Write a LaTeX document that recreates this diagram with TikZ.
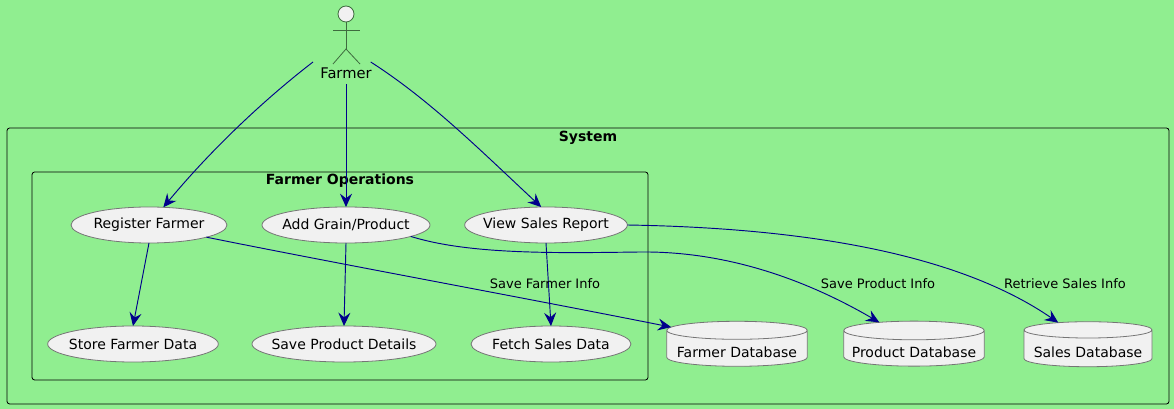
\documentclass[tikz,border=0pt]{standalone}
\usepackage{fontspec}
\setmainfont{DejaVu Sans}
\usetikzlibrary{arrows.meta,shapes.geometric}
\definecolor{pagegreen}{HTML}{90EE90}
\definecolor{shapefill}{HTML}{F1F1F1}
\definecolor{shapeline}{HTML}{757575}
\definecolor{flowblue}{HTML}{00008B}
\definecolor{actorline}{HTML}{3E6B3E}
\newcommand{\dbtext}[1]{\raisebox{-7pt}[0pt][0pt]{#1}}
\begin{document}
\begin{tikzpicture}[x=0.75pt,y=-0.75pt,inner sep=0pt,outer sep=0pt,line width=0.6pt,font=\fontsize{10.5pt}{12pt}\selectfont,
usecase/.style={draw=shapeline,fill=shapefill,ellipse,inner xsep=-14pt,minimum height=27pt},
dbase/.style={draw=shapeline,fill=shapefill,cylinder,shape border rotate=90,aspect=0.15,minimum height=33.75pt},
frame/.style={draw=black,rounded corners=2pt},
flow/.style={draw=flowblue,line width=0.7pt,-{Stealth[length=10pt,width=9pt,inset=3.5pt]}},
edgetext/.style={font=\fontsize{9.75pt}{12pt}\selectfont},
actorpart/.style={draw=actorline}]
\useasboundingbox[fill=pagegreen] (0,0) rectangle (1174,409);
% boxes
\draw[frame] (7,128) rectangle (1169,404);
\draw[frame] (32,172) rectangle (648,380);
\draw (588,138) node[font=\fontsize{10.5pt}{12pt}\selectfont\bfseries] (system) {System};
\draw (340,181) node[font=\fontsize{10.5pt}{12pt}\selectfont\bfseries] (operations) {Farmer Operations};
% actor
\draw (346,14) node[draw=actorline,fill=shapefill,circle,minimum size=12pt] (head) {};
\draw (346,73) node[minimum width=49.5pt,minimum height=16.5pt,font=\fontsize{11pt}{12pt}\selectfont] (farmer) {Farmer};
\draw[actorpart] (head.south) -- (346,49) coordinate (hip);
\draw[actorpart] (333,30) -- (360,30);
\draw[actorpart] (333,64) -- (hip) -- (360,64);
% use cases
\draw (149,225) node[usecase,minimum width=117pt] (register) {Register Farmer};
\draw (346,225) node[usecase,minimum width=126pt] (addgrain) {Add Grain/Product};
\draw (546,225) node[usecase,minimum width=122pt] (viewsales) {View Sales Report};
\draw (133,344) node[usecase,minimum width=128pt] (store) {Store Farmer Data};
\draw (344,344) node[usecase,minimum width=138pt] (saveproduct) {Save Product Details};
\draw (551,344) node[usecase,minimum width=120pt] (fetch) {Fetch Sales Data};
% databases
\draw (737,348.5) node[dbase,minimum width=105.5pt] (farmerdb) {\dbtext{Farmer Database}};
\draw (914,348.5) node[dbase,minimum width=105.5pt] (productdb) {\dbtext{Product Database}};
\draw (1088,348.5) node[dbase,minimum width=96pt] (salesdb) {\dbtext{Sales Database}};
% connectors
\draw[flow] (farmer.north west) .. controls (270,95) and (215,145) .. (register.51);
\draw[flow] (farmer.south) -- (addgrain.north);
\draw[flow] (farmer.24) .. controls (430,100) and (480,150) .. (viewsales.105);
\draw[flow] (register.south) -- (store.north);
\draw[flow] (addgrain.south) -- (saveproduct.north);
\draw[flow] (viewsales.south) -- (fetch.north);
\draw[flow] (register.-12) .. controls (350,266) and (520,297) .. (farmerdb.162);
\draw[flow] (addgrain.-10) .. controls (470,255) and (560,253) .. (640,252) .. controls (730,251) and (810,282) .. (productdb.143);
\draw[flow] (viewsales.east) .. controls (810,228) and (960,255) .. (salesdb.139);
% edge labels
\draw (545,284) node[edgetext] (farmerinfo) {Save Farmer Info};
\draw (878,284) node[edgetext] (productinfo) {Save Product Info};
\draw (1065,284) node[edgetext] (salesinfo) {Retrieve Sales Info};
\end{tikzpicture}
\end{document}
